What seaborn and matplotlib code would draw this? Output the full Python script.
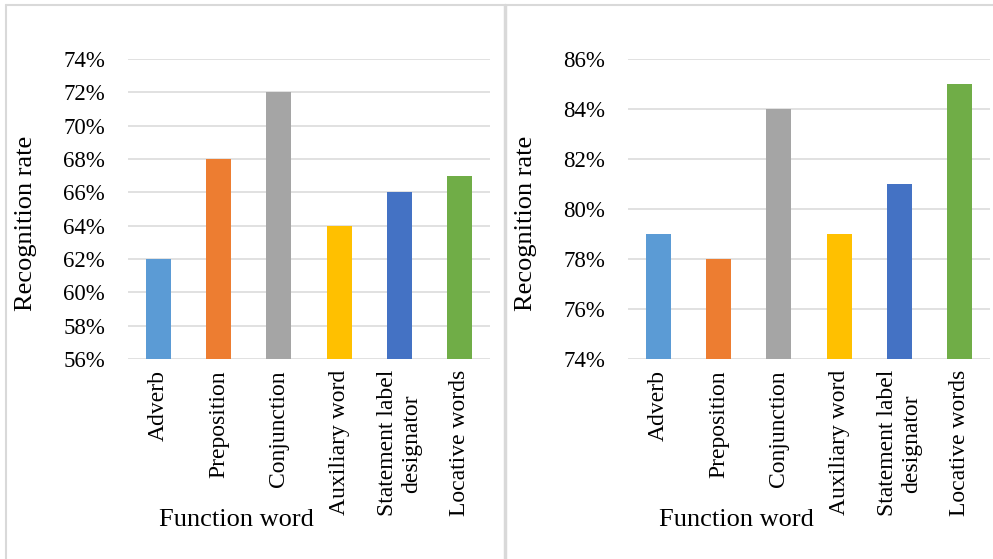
import matplotlib
matplotlib.use("Agg")
import matplotlib.pyplot as plt
from matplotlib.lines import Line2D
from matplotlib.ticker import FuncFormatter, MultipleLocator
import seaborn as sns
import pandas as pd

# Recognition rate (%) per function-word class, two experiments
categories = ["Adverb", "Preposition", "Conjunction", "Auxiliary word",
              "Statement label\ndesignator", "Locative words"]
rates_left = [62, 68, 72, 64, 66, 67]
rates_right = [79, 78, 84, 79, 81, 85]
ylim_left = (56, 74)
ylim_right = (74, 86)

bar_colors = ["#5B9BD5", "#ED7D31", "#A5A5A5", "#FFC000", "#4472C4", "#70AD47"]
grid_color = "#D9D9D9"

sns.set_theme(style="white")
plt.rcParams["font.family"] = ["Liberation Serif", "DejaVu Serif"]

W, H = 993, 559
fig = plt.figure(figsize=(W / 100, H / 100), dpi=100)


def px_rect(x0, x1, ytop, ybot):
    return [x0 / W, 1 - ybot / H, (x1 - x0) / W, (ybot - ytop) / H]


# panel frames
frame_kw = dict(color=grid_color, transform=fig.transFigure)
fig.add_artist(Line2D([6 / W, 6 / W], [0, 1 - 5 / H], lw=1.5, **frame_kw))
fig.add_artist(Line2D([6 / W, 1], [1 - 5 / H, 1 - 5 / H], lw=1.5, **frame_kw))
fig.add_artist(Line2D([505 / W, 505 / W], [0, 1 - 5 / H], lw=2.5, **frame_kw))

panels = [
    (px_rect(128, 490, 59, 359), rates_left, ylim_left),
    (px_rect(628, 990, 59, 359), rates_right, ylim_right),
]

for rect, rates, ylim in panels:
    ax = fig.add_axes(rect)
    df = pd.DataFrame({"Function word": categories, "Recognition rate": rates})
    sns.barplot(data=df, x="Function word", y="Recognition rate",
                hue="Function word", palette=bar_colors, legend=False,
                width=0.415, saturation=1, linewidth=0, ax=ax, zorder=3)
    ax.set_ylim(*ylim)
    ax.set_xlim(-0.5, len(categories) - 0.5)
    ax.yaxis.set_major_locator(MultipleLocator(2))
    ax.yaxis.set_major_formatter(FuncFormatter(lambda v, _: f"{v:.0f}%"))
    ax.grid(axis="y", color=grid_color, lw=1.1, zorder=0)
    ax.grid(axis="x", visible=False)
    ax.set_axisbelow(True)
    for s in ax.spines.values():
        s.set_visible(False)
    ax.tick_params(axis="y", length=0, pad=16.5, labelsize=16.5, labelcolor="black")
    ax.tick_params(axis="x", length=0, pad=8, labelsize=17, labelcolor="black")
    for lab in ax.get_xticklabels():
        lab.set_rotation(90)
        lab.set_va("top")
        lab.set_ha("center")
        lab.set_multialignment("center")
    ax.set_ylabel("Recognition rate", fontsize=19, color="black")
    ax.yaxis.set_label_coords(-0.252, 0.453)
    ax.set_xlabel("Function word", fontsize=19, color="black")
    ax.xaxis.set_label_coords(0.30, -0.537)
    ax.xaxis.label.set_va("center")

fig.savefig("out.png", dpi=100, facecolor="white")
